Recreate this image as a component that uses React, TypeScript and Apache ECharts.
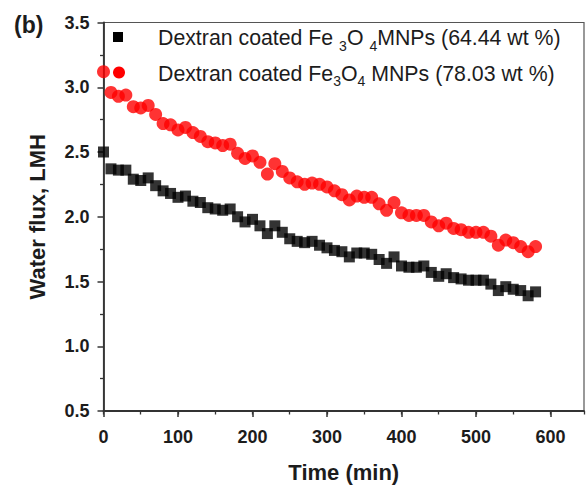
import React, { useEffect, useRef } from "react";
import * as echarts from "echarts";

const FONT = "'Liberation Sans', Arial, Helvetica, sans-serif";

// Time (min)
const times = [
  0, 10, 20, 30, 40, 50, 60, 70, 80, 90,
  100, 110, 120, 130, 140, 150, 160, 170, 180, 190,
  200, 210, 220, 230, 240, 250, 260, 270, 280, 290,
  300, 310, 320, 330, 340, 350, 360, 370, 380, 390,
  400, 410, 420, 430, 440, 450, 460, 470, 480, 490,
  500, 510, 520, 530, 540, 550, 560, 570, 580,
];

// Water flux (LMH), Dextran coated Fe3O4 MNPs (64.44 wt %)
const fluxLow = [
  2.50, 2.37, 2.36, 2.36, 2.29, 2.28, 2.30, 2.24, 2.20, 2.18,
  2.15, 2.16, 2.12, 2.11, 2.07, 2.06, 2.05, 2.06, 2.00, 1.96,
  1.98, 1.93, 1.87, 1.93, 1.88, 1.83, 1.81, 1.80, 1.81, 1.78,
  1.76, 1.74, 1.73, 1.69, 1.72, 1.72, 1.71, 1.67, 1.64, 1.69,
  1.62, 1.61, 1.61, 1.62, 1.57, 1.54, 1.56, 1.53, 1.52, 1.51,
  1.51, 1.51, 1.48, 1.43, 1.46, 1.44, 1.43, 1.39, 1.42,
];

// Water flux (LMH), Dextran coated Fe3O4 MNPs (78.03 wt %)
const fluxHigh = [
  3.12, 2.96, 2.93, 2.94, 2.85, 2.84, 2.86, 2.79, 2.72, 2.71,
  2.67, 2.69, 2.65, 2.62, 2.58, 2.57, 2.55, 2.56, 2.49, 2.45,
  2.47, 2.42, 2.33, 2.41, 2.35, 2.30, 2.27, 2.25, 2.26, 2.25,
  2.23, 2.20, 2.17, 2.13, 2.16, 2.15, 2.15, 2.10, 2.05, 2.11,
  2.03, 2.01, 2.01, 2.01, 1.96, 1.93, 1.95, 1.91, 1.90, 1.88,
  1.88, 1.88, 1.85, 1.78, 1.82, 1.80, 1.77, 1.73, 1.77,
];

const seriesNames = [
  "Dextran coated Fe3O4 MNPs (64.44 wt %)",
  "Dextran coated Fe3O4 MNPs (78.03 wt %)",
];

const legendRich1 = "{a|Dextran coated Fe }{s|3}{a|O }{s|4}{a|MNPs (64.44 wt %)}";
const legendRich2 = "{a|Dextran coated Fe}{t|3}{a|O}{t|4}{a| MNPs (78.03 wt %)}";

const TEXT = "#1c1c1c";
const AXIS = "#333";

export default function App() {
  const ref = useRef<HTMLDivElement>(null);

  useEffect(() => {
    document.body.style.margin = "0";
    if (!ref.current) return;
    const chart = echarts.init(ref.current, undefined, { renderer: "svg" });

    const rich = {
      a: { fontFamily: FONT, fontSize: 21.3, color: TEXT, lineHeight: 28 },
      s: { fontFamily: FONT, fontSize: 14, color: TEXT, lineHeight: 29, verticalAlign: "bottom" },
      t: { fontFamily: FONT, fontSize: 14, color: TEXT, lineHeight: 25, verticalAlign: "bottom" },
    };

    const option: any = {
      animation: false,
      backgroundColor: "#ffffff",
      grid: {
        left: 103.5,
        right: 4,
        top: 22.5,
        bottom: 71,
        show: true,
        borderColor: "#555",
        borderWidth: 1.2,
      },
      xAxis: [
        {
          type: "value",
          min: 0,
          max: 645,
          interval: 100,
          name: "Time (min)",
          nameLocation: "middle",
          nameGap: 50,
          nameTextStyle: { fontFamily: FONT, fontWeight: "bold", fontSize: 22, color: TEXT },
          axisLine: { show: true, onZero: false, lineStyle: { color: AXIS, width: 1.8 } },
          axisTick: { show: true, length: 6, lineStyle: { color: AXIS, width: 1.5 } },
          axisLabel: {
            fontFamily: FONT,
            fontWeight: "bold",
            fontSize: 18,
            color: TEXT,
            margin: 17,
            showMaxLabel: false,
            formatter: (v: number) => (v % 100 === 0 ? String(v) : ""),
          },
          splitLine: { show: false },
        },
        {
          type: "value",
          min: 0,
          max: 645,
          interval: 50,
          position: "bottom",
          axisLine: { show: false },
          axisTick: { show: true, length: 3.5, lineStyle: { color: AXIS, width: 1.3 } },
          axisLabel: { show: false },
          splitLine: { show: false },
        },
      ],
      yAxis: {
        type: "value",
        min: 0.5,
        max: 3.5,
        interval: 0.5,
        name: "Water flux, LMH",
        nameLocation: "middle",
        nameGap: 55,
        nameTextStyle: { fontFamily: FONT, fontWeight: "bold", fontSize: 22, color: TEXT },
        axisLine: { show: true, onZero: false, lineStyle: { color: AXIS, width: 1.8 } },
        axisTick: { show: true, length: 6, lineStyle: { color: AXIS, width: 1.5 } },
        minorTick: { show: true, splitNumber: 2, length: 3.5, lineStyle: { color: AXIS, width: 1.3 } },
        axisLabel: {
          fontFamily: FONT,
          fontWeight: "bold",
          fontSize: 18,
          color: TEXT,
          margin: 14,
          formatter: (v: number) => v.toFixed(1),
        },
        splitLine: { show: false },
      },
      series: [
        {
          name: seriesNames[0],
          type: "scatter",
          xAxisIndex: 0,
          symbol: "rect",
          symbolSize: 11,
          itemStyle: { color: "#000000" },
          data: times.map((t, i) => [t, fluxLow[i]]),
        },
        {
          name: seriesNames[1],
          type: "scatter",
          xAxisIndex: 0,
          symbol: "circle",
          symbolSize: 13,
          itemStyle: { color: "#ff0000" },
          data: times.map((t, i) => [t, fluxHigh[i]]),
        },
      ],
      graphic: [
        {
          type: "text",
          x: 14,
          y: 25,
          style: {
            text: "(b)",
            font: `bold 23px ${FONT}`,
            fill: TEXT,
            verticalAlign: "middle",
          },
        },
        {
          type: "rect",
          shape: { x: 113, y: 32, width: 10, height: 10 },
          style: { fill: "#000000" },
        },
        {
          type: "circle",
          shape: { cx: 119, cy: 72.5, r: 6 },
          style: { fill: "#ff0000" },
        },
        {
          type: "text",
          x: 158,
          y: 38,
          style: { text: legendRich1, rich, verticalAlign: "middle", fill: TEXT },
        },
        {
          type: "text",
          x: 158,
          y: 74,
          style: { text: legendRich2, rich, verticalAlign: "middle", fill: TEXT },
        },
      ],
    };

    chart.setOption(option);
    return () => chart.dispose();
  }, []);

  return <div ref={ref} style={{ width: 588, height: 488 }} />;
}
